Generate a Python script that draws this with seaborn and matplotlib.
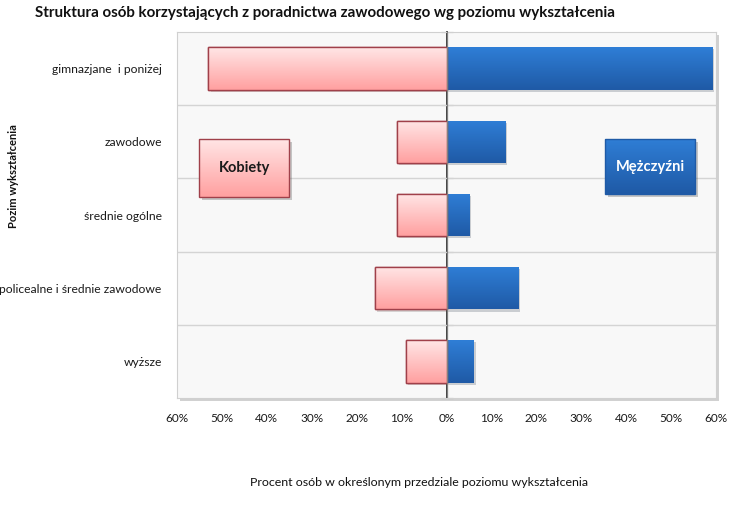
import numpy as np
import pandas as pd
import matplotlib
matplotlib.use("Agg")
import matplotlib.pyplot as plt
import seaborn as sns
from matplotlib.patches import Rectangle
from matplotlib.colors import LinearSegmentedColormap
import matplotlib.patheffects as pe

categories = ["gimnazjane  i poniżej", "zawodowe", "średnie ogólne",
              "policealne i średnie zawodowe", "wyższe"]
women = [53, 11, 11, 16, 9]
men = [59, 13, 5, 16, 6]
xticks = [-60, -50, -40, -30, -20, -10, 0, 10, 20, 30, 40, 50, 60]
xticklabels = [f"{abs(v)}%" for v in xticks]

sns.set_theme(style="white")
FONT = ["Lato", "DejaVu Sans"]
plt.rcParams["font.family"] = FONT

df = pd.DataFrame({"cat": categories,
                   "women": [-v for v in women],
                   "men": men})

fig = plt.figure(figsize=(7.36, 5.05), dpi=100)
ax = fig.add_axes([177/736, 1-398/505, 539/736, 366/505])
ax.set_facecolor("#f8f8f8")

sns.barplot(data=df, x="women", y="cat", order=categories, ax=ax,
            color="#ffb0b0", width=0.58, edgecolor="#a0404a", linewidth=1.0)
sns.barplot(data=df, x="men", y="cat", order=categories, ax=ax,
            color="#2a6cc4", width=0.58, edgecolor="none", linewidth=0)

pink_cmap = LinearSegmentedColormap.from_list("p", ["#ffe6e6", "#ffa0a0"])
blue_cmap = LinearSegmentedColormap.from_list("b", ["#2f7ed6", "#1f5aa6"])
grad = np.linspace(0, 1, 64).reshape(-1, 1)

patches = list(ax.patches)
n = len(categories)
for i, p in enumerate(patches):
    x0, y0 = p.get_x(), p.get_y()
    w, h = p.get_width(), p.get_height()
    cmap = pink_cmap if i < n else blue_cmap
    im = ax.imshow(grad, cmap=cmap, aspect="auto", origin="upper",
                   extent=[x0, x0 + w, y0 + h, y0], zorder=p.get_zorder() + 0.1,
                   interpolation="bicubic")
    im.set_clip_path(p)
    p.set_path_effects([pe.SimplePatchShadow(offset=(1.5, -1.5), alpha=0.2), pe.Normal()])
    if i < n:
        edge = Rectangle((x0, y0), w, h, fill=False, edgecolor="#a0404a",
                         linewidth=1.0, zorder=p.get_zorder() + 0.2)
        ax.add_patch(edge)

ax.set_xlim(-60, 60)
ax.set_ylim(n - 0.5, -0.5)
ax.set_xticks(xticks)
ax.set_xticklabels(xticklabels)
ax.set_yticks(range(n))
ax.set_yticklabels(categories)
ax.set_yticks([i + 0.5 for i in range(n - 1)], minor=True)
ax.grid(which="minor", axis="y", color="#d4d4d4", linewidth=1.0)
ax.grid(which="major", visible=False)
ax.set_axisbelow(True)
ax.tick_params(axis="both", which="both", length=0)
ax.tick_params(axis="x", pad=11, labelsize=8.5, labelcolor="#1a1a1a")
ax.tick_params(axis="y", pad=11, labelsize=8.7, labelcolor="#1a1a1a")
ax.set_xlabel("")
ax.set_ylabel("")
for s in ax.spines.values():
    s.set_color("#d0d0d0")
    s.set_linewidth(0.8)
ax.patch.set_path_effects([pe.SimplePatchShadow(offset=(2.5, -2.5), alpha=0.25), pe.Normal()])

ax.axvline(0, color="#808080", linewidth=0.9, zorder=5)
sec = ax.secondary_yaxis(0.5)
sec.set_yticks([i - 0.5 for i in range(n + 1)])
sec.set_yticklabels([])
sec.tick_params(length=8, direction="inout", color="#808080", width=0.8)
sec.spines["left"].set_visible(False)

# legend-like boxes
def grad_box(x0, y0, x1, y1, cmap, edge, text, tcolor):
    back = Rectangle((x0, y0), x1 - x0, y1 - y0, transform=ax.transAxes,
                     facecolor="white", edgecolor="none", zorder=7)
    back.set_path_effects([pe.SimplePatchShadow(offset=(2, -2), alpha=0.3), pe.Normal()])
    ax.add_patch(back)
    im = ax.imshow(grad, cmap=cmap, aspect="auto", origin="upper",
                   extent=[x0, x1, y0, y1], transform=ax.transAxes, zorder=7.5,
                   interpolation="bicubic")
    im.set_clip_path(back)
    rect = Rectangle((x0, y0), x1 - x0, y1 - y0, transform=ax.transAxes,
                     facecolor="none", edgecolor=edge, linewidth=1.0, zorder=8)
    ax.add_patch(rect)
    ax.text((x0 + x1) / 2, (y0 + y1) / 2, text, transform=ax.transAxes,
            ha="center", va="center", fontsize=10.5, fontweight="bold",
            color=tcolor, zorder=9)

grad_box(0.041, 0.549, 0.208, 0.708, pink_cmap, "#a0404a", "Kobiety", "#1a1a1a")
grad_box(0.794, 0.557, 0.961, 0.708, blue_cmap, "#1f5aa6", "Mężczyźni", "white")
ax.set_xlim(-60, 60)
ax.set_ylim(n - 0.5, -0.5)

fig.text(35/736, 1 - 13/505, "Struktura osób korzystających z poradnictwa zawodowego wg poziomu wykształcenia",
         ha="left", va="center", fontsize=10.9, fontweight="bold", color="#111111")
fig.text(419/736, 1 - 483/505, "Procent osób w określonym przedziale poziomu wykształcenia",
         ha="center", va="center", fontsize=8.9, color="#111111")
fig.text(14/736, 1 - 176/505, "Pozim wykształcenia", rotation=90,
         ha="center", va="center", fontsize=8, fontweight="bold", color="#111111")

fig.savefig("out.png", dpi=100, facecolor="white")
